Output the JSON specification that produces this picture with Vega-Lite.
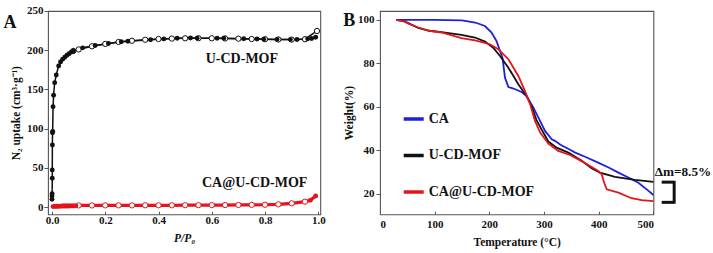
{
  "$schema": "https://vega.github.io/schema/vega-lite/v6.json",
  "padding": {"left": 2, "top": 4, "right": 0, "bottom": 0},
  "background": "white",
  "config": {
    "view": {"stroke": "#555", "strokeWidth": 1.1},
    "axis": {
      "domain": false, "grid": false,
      "labelFont": "Liberation Serif", "labelFontWeight": "bold", "labelFontSize": 11, "labelColor": "#111",
      "titleFont": "Liberation Serif", "titleFontWeight": "bold", "titleFontSize": 11.5, "titleColor": "#111",
      "tickColor": "#555", "tickSize": 4
    },
    "text": {"font": "Liberation Serif", "fontWeight": "bold"}
  },
  "hconcat": [
    {
      "width": 272.3, "height": 203.3,
      "data": {"values": [
        {"l":"U-ads","s":"U-CD-MOF","b":"ads","p":0.0,"u":9.8},
        {"l":"U-ads","s":"U-CD-MOF","b":"ads","p":0.0,"u":14},
        {"l":"U-ads","s":"U-CD-MOF","b":"ads","p":0.0005,"u":17},
        {"l":"U-ads","s":"U-CD-MOF","b":"ads","p":0.001,"u":36.6},
        {"l":"U-ads","s":"U-CD-MOF","b":"ads","p":0.001,"u":47.2},
        {"l":"U-ads","s":"U-CD-MOF","b":"ads","p":0.0015,"u":79},
        {"l":"U-ads","s":"U-CD-MOF","b":"ads","p":0.002,"u":94.8},
        {"l":"U-ads","s":"U-CD-MOF","b":"ads","p":0.0025,"u":96.5},
        {"l":"U-ads","s":"U-CD-MOF","b":"ads","p":0.004,"u":128},
        {"l":"U-ads","s":"U-CD-MOF","b":"ads","p":0.006,"u":142.5},
        {"l":"U-ads","s":"U-CD-MOF","b":"ads","p":0.01,"u":158.6},
        {"l":"U-ads","s":"U-CD-MOF","b":"ads","p":0.016,"u":168.4},
        {"l":"U-ads","s":"U-CD-MOF","b":"ads","p":0.025,"u":180},
        {"l":"U-ads","s":"U-CD-MOF","b":"ads","p":0.032,"u":185},
        {"l":"U-ads","s":"U-CD-MOF","b":"ads","p":0.04,"u":188.5},
        {"l":"U-ads","s":"U-CD-MOF","b":"ads","p":0.048,"u":191},
        {"l":"U-ads","s":"U-CD-MOF","b":"ads","p":0.056,"u":193.5},
        {"l":"U-ads","s":"U-CD-MOF","b":"ads","p":0.064,"u":195.5},
        {"l":"U-ads","s":"U-CD-MOF","b":"ads","p":0.072,"u":197.5},
        {"l":"U-ads","s":"U-CD-MOF","b":"ads","p":0.08,"u":199},
        {"l":"U-ads","s":"U-CD-MOF","b":"ads","p":0.115,"u":203},
        {"l":"U-ads","s":"U-CD-MOF","b":"ads","p":0.162,"u":206},
        {"l":"U-ads","s":"U-CD-MOF","b":"ads","p":0.212,"u":208.6},
        {"l":"U-ads","s":"U-CD-MOF","b":"ads","p":0.26,"u":210.7},
        {"l":"U-ads","s":"U-CD-MOF","b":"ads","p":0.285,"u":211.5},
        {"l":"U-ads","s":"U-CD-MOF","b":"ads","p":0.37,"u":213.3},
        {"l":"U-ads","s":"U-CD-MOF","b":"ads","p":0.42,"u":214.4},
        {"l":"U-ads","s":"U-CD-MOF","b":"ads","p":0.47,"u":215.3},
        {"l":"U-ads","s":"U-CD-MOF","b":"ads","p":0.52,"u":215.5},
        {"l":"U-ads","s":"U-CD-MOF","b":"ads","p":0.545,"u":215.4},
        {"l":"U-ads","s":"U-CD-MOF","b":"ads","p":0.62,"u":215.3},
        {"l":"U-ads","s":"U-CD-MOF","b":"ads","p":0.645,"u":215.2},
        {"l":"U-ads","s":"U-CD-MOF","b":"ads","p":0.72,"u":214.6},
        {"l":"U-ads","s":"U-CD-MOF","b":"ads","p":0.77,"u":214.2},
        {"l":"U-ads","s":"U-CD-MOF","b":"ads","p":0.795,"u":214},
        {"l":"U-ads","s":"U-CD-MOF","b":"ads","p":0.845,"u":213.8},
        {"l":"U-ads","s":"U-CD-MOF","b":"ads","p":0.895,"u":213.5},
        {"l":"U-ads","s":"U-CD-MOF","b":"ads","p":0.92,"u":213.7},
        {"l":"U-ads","s":"U-CD-MOF","b":"ads","p":0.96,"u":214.5},
        {"l":"U-ads","s":"U-CD-MOF","b":"ads","p":0.975,"u":215},
        {"l":"U-ads","s":"U-CD-MOF","b":"ads","p":0.99,"u":216.5},
        {"l":"U-des","s":"U-CD-MOF","b":"des","p":0.08,"u":199},
        {"l":"U-des","s":"U-CD-MOF","b":"des","p":0.1,"u":201},
        {"l":"U-des","s":"U-CD-MOF","b":"des","p":0.15,"u":205},
        {"l":"U-des","s":"U-CD-MOF","b":"des","p":0.2,"u":208},
        {"l":"U-des","s":"U-CD-MOF","b":"des","p":0.25,"u":210.5},
        {"l":"U-des","s":"U-CD-MOF","b":"des","p":0.3,"u":212},
        {"l":"U-des","s":"U-CD-MOF","b":"des","p":0.35,"u":213.3},
        {"l":"U-des","s":"U-CD-MOF","b":"des","p":0.4,"u":214.3},
        {"l":"U-des","s":"U-CD-MOF","b":"des","p":0.45,"u":214.8},
        {"l":"U-des","s":"U-CD-MOF","b":"des","p":0.5,"u":215.2},
        {"l":"U-des","s":"U-CD-MOF","b":"des","p":0.55,"u":215.3},
        {"l":"U-des","s":"U-CD-MOF","b":"des","p":0.6,"u":215.2},
        {"l":"U-des","s":"U-CD-MOF","b":"des","p":0.65,"u":215},
        {"l":"U-des","s":"U-CD-MOF","b":"des","p":0.7,"u":214.7},
        {"l":"U-des","s":"U-CD-MOF","b":"des","p":0.75,"u":214.3},
        {"l":"U-des","s":"U-CD-MOF","b":"des","p":0.8,"u":214},
        {"l":"U-des","s":"U-CD-MOF","b":"des","p":0.85,"u":213.7},
        {"l":"U-des","s":"U-CD-MOF","b":"des","p":0.9,"u":213.5},
        {"l":"U-des","s":"U-CD-MOF","b":"des","p":0.95,"u":214},
        {"l":"U-des","s":"U-CD-MOF","b":"des","p":0.995,"u":224.5},
        {"l":"CA","s":"CA@U-CD-MOF","b":"ads","p":0.004,"u":0.5},
        {"l":"CA","s":"CA@U-CD-MOF","b":"ads","p":0.01,"u":0.8},
        {"l":"CA","s":"CA@U-CD-MOF","b":"ads","p":0.015,"u":0.9},
        {"l":"CA","s":"CA@U-CD-MOF","b":"ads","p":0.02,"u":1.0},
        {"l":"CA","s":"CA@U-CD-MOF","b":"ads","p":0.025,"u":1.0},
        {"l":"CA","s":"CA@U-CD-MOF","b":"ads","p":0.03,"u":1.1},
        {"l":"CA","s":"CA@U-CD-MOF","b":"ads","p":0.035,"u":1.1},
        {"l":"CA","s":"CA@U-CD-MOF","b":"ads","p":0.04,"u":1.2},
        {"l":"CA","s":"CA@U-CD-MOF","b":"ads","p":0.045,"u":1.2},
        {"l":"CA","s":"CA@U-CD-MOF","b":"ads","p":0.05,"u":1.2},
        {"l":"CA","s":"CA@U-CD-MOF","b":"ads","p":0.055,"u":1.3},
        {"l":"CA","s":"CA@U-CD-MOF","b":"ads","p":0.06,"u":1.3},
        {"l":"CA","s":"CA@U-CD-MOF","b":"ads","p":0.065,"u":1.3},
        {"l":"CA","s":"CA@U-CD-MOF","b":"ads","p":0.07,"u":1.4},
        {"l":"CA","s":"CA@U-CD-MOF","b":"ads","p":0.075,"u":1.4},
        {"l":"CA","s":"CA@U-CD-MOF","b":"ads","p":0.08,"u":1.4},
        {"l":"CA","s":"CA@U-CD-MOF","b":"ads","p":0.085,"u":1.5},
        {"l":"CA","s":"CA@U-CD-MOF","b":"ads","p":0.09,"u":1.5},
        {"l":"CA","s":"CA@U-CD-MOF","b":"des","p":0.1,"u":2.0},
        {"l":"CA","s":"CA@U-CD-MOF","b":"des","p":0.15,"u":2.0},
        {"l":"CA","s":"CA@U-CD-MOF","b":"des","p":0.2,"u":2.1},
        {"l":"CA","s":"CA@U-CD-MOF","b":"des","p":0.25,"u":2.1},
        {"l":"CA","s":"CA@U-CD-MOF","b":"des","p":0.3,"u":2.1},
        {"l":"CA","s":"CA@U-CD-MOF","b":"des","p":0.35,"u":2.2},
        {"l":"CA","s":"CA@U-CD-MOF","b":"des","p":0.4,"u":2.2},
        {"l":"CA","s":"CA@U-CD-MOF","b":"des","p":0.45,"u":2.2},
        {"l":"CA","s":"CA@U-CD-MOF","b":"des","p":0.5,"u":2.3},
        {"l":"CA","s":"CA@U-CD-MOF","b":"des","p":0.55,"u":2.3},
        {"l":"CA","s":"CA@U-CD-MOF","b":"des","p":0.6,"u":2.4},
        {"l":"CA","s":"CA@U-CD-MOF","b":"des","p":0.65,"u":2.5},
        {"l":"CA","s":"CA@U-CD-MOF","b":"des","p":0.7,"u":2.6},
        {"l":"CA","s":"CA@U-CD-MOF","b":"des","p":0.75,"u":2.7},
        {"l":"CA","s":"CA@U-CD-MOF","b":"des","p":0.8,"u":2.9},
        {"l":"CA","s":"CA@U-CD-MOF","b":"des","p":0.85,"u":3.4},
        {"l":"CA","s":"CA@U-CD-MOF","b":"des","p":0.9,"u":4.7},
        {"l":"CA","s":"CA@U-CD-MOF","b":"des","p":0.95,"u":6.8},
        {"l":"CA","s":"CA@U-CD-MOF","b":"ads","p":0.97,"u":8.5},
        {"l":"CA","s":"CA@U-CD-MOF","b":"ads","p":0.99,"u":14}
      ]},
      "encoding": {
        "x": {"field": "p", "type": "quantitative", "scale": {"domain": [-0.015, 1.0075], "nice": false, "zero": false},
              "axis": {"values": [0, 0.2, 0.4, 0.6, 0.8, 1.0], "format": ".1f", "title": "P/P₀", "titleFontStyle": "italic", "tickSize": -3, "labelPadding": 3, "titlePadding": 7}},
        "y": {"field": "u", "type": "quantitative", "scale": {"domain": [-9.3, 250], "nice": false, "zero": false},
              "axis": {"values": [0, 50, 100, 150, 200, 250], "title": "N₂ uptake (cm³·g⁻¹)", "labelPadding": 1, "titlePadding": 5}}
      },
      "layer": [
        {
          "mark": {"type": "line"},
          "encoding": {
            "detail": {"field": "l"},
            "order": {"field": "p"},
            "color": {"field": "s", "type": "nominal", "scale": {"domain": ["U-CD-MOF", "CA@U-CD-MOF"], "range": ["#111111", "#e3141c"]}, "legend": null},
            "strokeWidth": {"field": "s", "type": "nominal", "scale": {"domain": ["U-CD-MOF", "CA@U-CD-MOF"], "range": [1.5, 3.2]}, "legend": null}
          }
        },
        {
          "transform": [{"filter": "datum.b == 'des'"}],
          "mark": {"type": "point", "filled": false, "fill": "white", "strokeWidth": 1, "size": 28, "opacity": 1},
          "encoding": {
            "stroke": {"field": "s", "type": "nominal", "scale": {"domain": ["U-CD-MOF", "CA@U-CD-MOF"], "range": ["#111111", "#e3141c"]}, "legend": null}
          }
        },
        {
          "transform": [{"filter": "datum.b == 'ads'"}],
          "mark": {"type": "circle", "size": 24, "opacity": 1},
          "encoding": {
            "color": {"field": "s", "type": "nominal", "scale": {"domain": ["U-CD-MOF", "CA@U-CD-MOF"], "range": ["#111111", "#e3141c"]}, "legend": null}
          }
        },
        {
          "data": {"values": [
            {"p": 0.713, "u": 189, "t": "U-CD-MOF", "sz": 14},
            {"p": 0.761, "u": 30.6, "t": "CA@U-CD-MOF", "sz": 14},
            {"p": -0.158, "u": 235, "t": "A", "sz": 18}
          ]},
          "mark": {"type": "text", "align": "center", "baseline": "middle", "color": "#111"},
          "encoding": {
            "text": {"field": "t"},
            "size": {"field": "sz", "type": "quantitative", "scale": null}
          }
        }
      ]
    },
    {
      "width": 273.4, "height": 203.3,
      "layer": [
        {
          "data": {"values": [
            {"s":"CA","t":30,"w":100},{"s":"CA","t":60,"w":100},{"s":"CA","t":100,"w":100},{"s":"CA","t":150,"w":99.8},
            {"s":"CA","t":174,"w":98.8},{"s":"CA","t":192,"w":97.2},{"s":"CA","t":204,"w":94.2},{"s":"CA","t":213,"w":90.3},
            {"s":"CA","t":219.5,"w":85.7},{"s":"CA","t":224,"w":82.6},{"s":"CA","t":228.6,"w":73.4},{"s":"CA","t":234.8,"w":69.1},
            {"s":"CA","t":244,"w":68.4},{"s":"CA","t":259,"w":66.8},{"s":"CA","t":268,"w":65},{"s":"CA","t":280.5,"w":59.6},
            {"s":"CA","t":289.7,"w":55},{"s":"CA","t":301.8,"w":48.9},{"s":"CA","t":314,"w":45},{"s":"CA","t":320,"w":44.3},
            {"s":"CA","t":330,"w":42.5},{"s":"CA","t":347.5,"w":40.2},{"s":"CA","t":357,"w":38.9},{"s":"CA","t":375,"w":37},
            {"s":"CA","t":399,"w":34.3},{"s":"CA","t":420,"w":31.8},{"s":"CA","t":436,"w":29.7},{"s":"CA","t":455,"w":27.3},
            {"s":"CA","t":472.6,"w":25},{"s":"CA","t":490,"w":21.5},{"s":"CA","t":500,"w":19.4},
            {"s":"U-CD-MOF","t":30,"w":100},{"s":"U-CD-MOF","t":45,"w":99.3},{"s":"U-CD-MOF","t":52,"w":98.5},{"s":"U-CD-MOF","t":70,"w":96.3},
            {"s":"U-CD-MOF","t":90,"w":95},{"s":"U-CD-MOF","t":112.7,"w":94.4},{"s":"U-CD-MOF","t":149,"w":93.1},{"s":"U-CD-MOF","t":173.7,"w":91.9},
            {"s":"U-CD-MOF","t":192,"w":90},{"s":"U-CD-MOF","t":207,"w":87.2},{"s":"U-CD-MOF","t":219.5,"w":83.4},{"s":"U-CD-MOF","t":234.8,"w":78},
            {"s":"U-CD-MOF","t":253,"w":70.4},{"s":"U-CD-MOF","t":268,"w":65},{"s":"U-CD-MOF","t":277,"w":60.4},{"s":"U-CD-MOF","t":286,"w":54},
            {"s":"U-CD-MOF","t":295.7,"w":49.5},{"s":"U-CD-MOF","t":307.9,"w":44},{"s":"U-CD-MOF","t":323,"w":41.2},{"s":"U-CD-MOF","t":344.5,"w":38.9},
            {"s":"U-CD-MOF","t":369,"w":35.1},{"s":"U-CD-MOF","t":387,"w":31.7},{"s":"U-CD-MOF","t":402.3,"w":29.7},{"s":"U-CD-MOF","t":429.7,"w":27.7},
            {"s":"U-CD-MOF","t":466.3,"w":26.3},{"s":"U-CD-MOF","t":500,"w":25.4},
            {"s":"CA@U-CD-MOF","t":30,"w":100},{"s":"CA@U-CD-MOF","t":45,"w":99.2},{"s":"CA@U-CD-MOF","t":52,"w":98.3},{"s":"CA@U-CD-MOF","t":70,"w":96.5},
            {"s":"CA@U-CD-MOF","t":90,"w":95},{"s":"CA@U-CD-MOF","t":112.7,"w":94.2},{"s":"CA@U-CD-MOF","t":149,"w":91.6},{"s":"CA@U-CD-MOF","t":173.7,"w":90.6},
            {"s":"CA@U-CD-MOF","t":201,"w":88.8},{"s":"CA@U-CD-MOF","t":216.5,"w":86.5},{"s":"CA@U-CD-MOF","t":234.8,"w":81.9},{"s":"CA@U-CD-MOF","t":253,"w":74.2},
            {"s":"CA@U-CD-MOF","t":265,"w":67.3},{"s":"CA@U-CD-MOF","t":274.6,"w":61.2},{"s":"CA@U-CD-MOF","t":283.5,"w":53.5},{"s":"CA@U-CD-MOF","t":293,"w":48.1},
            {"s":"CA@U-CD-MOF","t":307.9,"w":43},{"s":"CA@U-CD-MOF","t":326,"w":39.7},{"s":"CA@U-CD-MOF","t":347.5,"w":37.8},{"s":"CA@U-CD-MOF","t":362.8,"w":35.8},
            {"s":"CA@U-CD-MOF","t":381,"w":33.2},{"s":"CA@U-CD-MOF","t":399.4,"w":30.4},{"s":"CA@U-CD-MOF","t":405.4,"w":28.9},{"s":"CA@U-CD-MOF","t":410,"w":25},
            {"s":"CA@U-CD-MOF","t":414.6,"w":22},{"s":"CA@U-CD-MOF","t":436,"w":20.5},{"s":"CA@U-CD-MOF","t":460,"w":17.9},{"s":"CA@U-CD-MOF","t":478.6,"w":17},
            {"s":"CA@U-CD-MOF","t":500,"w":16.6}
          ]},
          "mark": {"type": "line", "strokeWidth": 1.8},
          "encoding": {
            "x": {"field": "t", "type": "quantitative", "scale": {"domain": [0, 500], "nice": false},
                  "axis": {"values": [0, 100, 200, 300, 400, 500], "title": "Temperature (°C)", "tickSize": -3, "labelPadding": 7, "titlePadding": 7}},
            "y": {"field": "w", "type": "quantitative", "scale": {"domain": [10.5, 104.1], "nice": false, "zero": false},
                  "axis": {"values": [20, 40, 60, 80, 100], "title": "Weight(%)", "labelPadding": 2, "titlePadding": 3}},
            "color": {"field": "s", "type": "nominal",
                      "scale": {"domain": ["CA", "U-CD-MOF", "CA@U-CD-MOF"], "range": ["#1f1fe0", "#111111", "#e3141c"]},
                      "legend": {"title": null, "orient": "none", "legendX": 21.7, "legendY": 96, "symbolType": "stroke", "symbolSize": 400, "symbolStrokeWidth": 3.5, "rowPadding": 17.5, "labelOffset": 3, "labelFont": "Liberation Serif", "labelFontWeight": "bold", "labelFontSize": 14, "labelColor": "#111", "padding": 0}}
          }
        },
        {
          "data": {"values": [
            {"x1": 515.2, "x2": 538, "y1": 25.3, "y2": 25.3},
            {"x1": 538, "x2": 538, "y1": 25.9, "y2": 15.4},
            {"x1": 515.2, "x2": 538, "y1": 16.0, "y2": 16.0}
          ]},
          "mark": {"type": "rule", "strokeWidth": 3, "color": "#111", "clip": false},
          "encoding": {
            "x": {"field": "x1", "type": "quantitative"},
            "x2": {"field": "x2"},
            "y": {"field": "y1", "type": "quantitative"},
            "y2": {"field": "y2"}
          }
        },
        {
          "data": {"values": [
            {"x": 502.5, "y": 29.9, "t": "Δm=8.5%"}
          ]},
          "mark": {"type": "text", "align": "left", "baseline": "middle", "fontSize": 13.2, "color": "#111", "clip": false},
          "encoding": {
            "x": {"field": "x", "type": "quantitative"},
            "y": {"field": "y", "type": "quantitative"},
            "text": {"field": "t"}
          }
        },
        {
          "data": {"values": [
            {"x": -56.3, "y": 99.3, "t": "B"}
          ]},
          "mark": {"type": "text", "align": "center", "baseline": "middle", "fontSize": 18, "color": "#111", "clip": false},
          "encoding": {
            "x": {"field": "x", "type": "quantitative"},
            "y": {"field": "y", "type": "quantitative"},
            "text": {"field": "t"}
          }
        }
      ]
    }
  ],
  "spacing": 59,
  "bounds": "flush",
  "resolve": {"scale": {"color": "independent", "strokeWidth": "independent"}, "legend": {"color": "independent"}}
}
